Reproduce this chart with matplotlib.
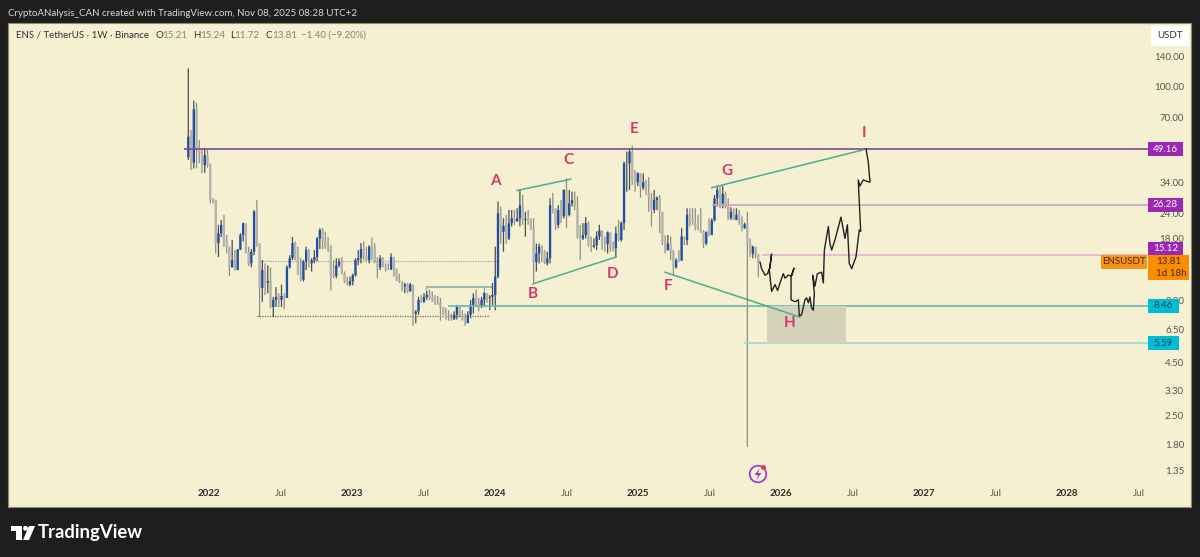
import numpy as np
import matplotlib
matplotlib.use("Agg")
import matplotlib.pyplot as plt
from matplotlib.patches import Rectangle, Circle, Polygon
from matplotlib.transforms import Affine2D

plt.rcParams['font.family'] = ['Lato', 'DejaVu Sans']

W, H = 1200, 557

# weekly candles (ENS / USDT, from Nov 2021)
first_open = 45.0
first_year = 2021.855
closes = [
    56.6, 42.3, 77, 49.4, 47, 41.2, 46.1, 41.2, 28.4, 27.9, 17.2, 19.2, 21.1, 17.8, 16.5, 13.1, 14.2, 12.7, 16, 18.8,
    21.5, 15.6, 13.7, 15.6, 24.5, 17.2, 10.4, 12.7, 11, 11.2, 8.4, 9.1, 9.4, 9.1, 9.5, 9.3, 13.1, 14.5, 17.2, 14.5,
    12.2, 11.4, 14, 15.9, 13.7, 14.2, 14.7, 18.1, 19.9, 17.5, 16.5, 16.4, 12.2, 11.9, 13.4, 14, 12.2, 11.2, 10.8, 11.2,
    12, 14.2, 14.5, 16.1, 15, 14.2, 16.5, 16.4, 14, 13.1, 14.5, 13.4, 12.9, 12.8, 14.7, 12.9, 11.4, 11.2, 10.6, 10.8,
    10, 10.8, 7.8, 8, 9.1, 8.9, 9.4, 9.6, 9.3, 9.1, 8.9, 8.8, 8.4, 7.8, 7.4, 7.35, 7.3, 7.7, 8.4, 7.7,
    7.3, 7, 7.7, 8.6, 9.3, 8.8, 8.4, 9.1, 9.8, 9.3, 9.4, 9.6, 11.8, 24, 19.5, 20.9, 18.1, 21.5, 22.7, 21.9,
    22.7, 26.3, 22.3, 22.5, 21.9, 20.2, 13.9, 15.3, 16.5, 15.6, 13.7, 14.5, 26.3, 25.4, 21.1, 24.9, 23.2, 31.2, 23.6, 26.8,
    27.9, 25.9, 18.5, 18.1, 18.8, 21.5, 16.8, 16.5, 16.8, 18.5, 19.8, 17.1, 17, 19.4, 16.5, 16.2, 19.2, 17.8, 21.5, 42,
    42, 47.9, 34.5, 34, 37.6, 31.9, 34, 30.2, 28.6, 24.9, 27.9, 28.6, 24.4, 17.5, 15.9, 17.1, 15.6, 13.1, 14.2, 14.1,
    18.5, 17.8, 23.6, 22.7, 21.5, 20.3, 20, 19.6, 17.1, 19.4, 18.8, 22.2, 28.4, 31.2, 26.8, 29.9, 25.9, 22.7, 24.4, 22.3,
    23.6, 22.7, 20.3, 21.2, 17.1, 15.3, 16.5, 15.21, 13.81,
]
highs = [
    122, 61, 85, 83, 54.6, 49.4, 50, 48.8, 42, 28.4, 27.9, 21.1, 22.3, 23.6, 18.8, 16.5, 17.8, 15.9, 16.1, 19.2,
    21.6, 21.1, 16.5, 16.1, 24.9, 27.9, 15.9, 14.2, 13.7, 13.4, 13.1, 9.4, 10.5, 9.8, 10.8, 9.8, 13.4, 15, 18.4, 17.5,
    16.5, 14.5, 14.2, 16.5, 16.1, 14.5, 15.9, 18.4, 20.3, 20.3, 19.5, 18.4, 16.8, 14.2, 14.5, 14.5, 14.7, 12.5, 11.8, 11.8,
    12.2, 14.5, 15.9, 17.2, 17.5, 16.5, 16.8, 18.3, 17.2, 14.7, 15, 14.7, 13.7, 13.7, 15.3, 14.7, 12.9, 12.2, 11.2, 11,
    11, 11, 10.2, 8.1, 9.4, 9.6, 9.8, 10, 10.2, 10, 9.6, 9.5, 9.3, 8.4, 8.3, 8.1, 7.8, 8, 8.6, 8.4,
    8.1, 7.8, 8, 9.1, 9.8, 10.2, 9.3, 9.4, 9.9, 9.8, 9.6, 11, 16.5, 27.4, 25.9, 22.7, 23.6, 24.9, 24.9, 24.9,
    25.4, 31.2, 29.5, 24.4, 24.9, 22.7, 22.7, 17.1, 17.1, 16.8, 15.9, 15.6, 28.4, 30.2, 24.9, 26.3, 27.9, 31.4, 35.6, 31.2,
    30.6, 30.6, 29, 21.1, 21.5, 23, 21.9, 18.5, 18.1, 19.6, 21.1, 19.6, 18.5, 19.6, 19.2, 17.5, 20.7, 22.3, 21.9, 42.8,
    48, 49.8, 51.3, 39, 38, 37.6, 37.6, 34.9, 36, 30.2, 31.2, 29, 29.5, 24.4, 18.8, 18.8, 18.5, 15.9, 14.5, 15.9,
    20.3, 18.5, 25.4, 25.4, 25.4, 25.4, 23.6, 25.4, 19.9, 19.6, 22.7, 22.7, 29.5, 32.6, 32.6, 32.6, 30.6, 28.4, 25.7, 25.4,
    25.4, 24.9, 23.2, 21.6, 24.4, 18.1, 16.7, 16.3, 15.24,
]
lows = [
    43.6, 39, 39.7, 39.7, 42, 37.6, 37.8, 40, 26.8, 26.8, 15.3, 14.7, 18.4, 16.5, 15.3, 11.9, 13.1, 12.6, 12.7, 15.9,
    17.5, 15.3, 13.3, 13.1, 15, 16.5, 7.5, 8.9, 9.6, 9.8, 8.3, 7.5, 8.4, 8.4, 8.4, 8.2, 9.3, 12.9, 14.2, 14.2,
    12, 11.2, 11.2, 12.7, 13.1, 12.5, 13.7, 14, 16.1, 16.1, 16.1, 15.6, 10.1, 11.6, 11.6, 13.1, 12.1, 11, 10.7, 10.6,
    10.7, 11.8, 13.4, 13.7, 14.2, 14, 13.7, 14.2, 13.7, 11.6, 12.7, 13.1, 12.5, 12.7, 12.7, 11.8, 11.2, 11, 10, 9.8,
    9.8, 10, 6.8, 7, 7.7, 8.8, 8.8, 9.1, 9.1, 8.9, 8.6, 8.6, 7.2, 7.7, 7.3, 7.2, 7.2, 7.3, 7.3, 7.5,
    7.2, 6.8, 7.2, 7.4, 7.8, 8.4, 8, 8.3, 8.4, 8.8, 8.1, 8.6, 8.1, 11.6, 17.1, 15.6, 17.1, 17.8, 20.7, 21.1,
    21.9, 20.7, 21.1, 18.5, 21.1, 19.9, 10.8, 12.5, 13.7, 13.9, 13.6, 13.4, 13.7, 24, 19.9, 20.3, 21.5, 22.7, 20.3, 23.2,
    25.9, 24.9, 18.1, 14.2, 17.8, 18.1, 16.5, 15.6, 16.2, 15.9, 17.8, 15.9, 15.6, 15.3, 15.6, 15.6, 14.7, 17.5, 17.5, 19.9,
    30.6, 31.2, 33, 30.6, 32.6, 28.6, 31.2, 29.5, 24.4, 20.7, 24, 24.9, 19.2, 16.8, 15.3, 15.8, 14.2, 12, 12.9, 13.9,
    14.2, 16.8, 16.8, 20.7, 21.1, 19.9, 19.8, 19.3, 16.3, 16.8, 18.5, 19.2, 21.9, 25.9, 25.4, 25.4, 25.4, 22.3, 22.3, 22.2,
    22.2, 21.1, 19.6, 20.2, 1.75, 14.7, 14.5, 14.5, 11.72,
]

# hand drawn projection after the last candle
path_years = [
    2025.853, 2025.864, 2025.888, 2025.906, 2025.923, 2025.934, 2025.918, 2025.934, 2025.958, 2025.976,
    2025.993, 2026.016, 2026.028, 2026.051, 2026.074, 2026.091, 2026.070, 2026.070, 2026.098, 2026.121,
    2026.128, 2026.144, 2026.167, 2026.179, 2026.191, 2026.202, 2026.214, 2026.226, 2026.233, 2026.221,
    2026.237, 2026.254, 2026.284, 2026.296, 2026.303, 2026.331, 2026.342, 2026.354, 2026.377, 2026.419,
    2026.436, 2026.447, 2026.464, 2026.477, 2026.494, 2026.524, 2026.547, 2026.557, 2026.540, 2026.552,
    2026.575, 2026.599, 2026.622, 2026.610, 2026.594,
]
path_prices = [
    13.9, 12.9, 12, 12.2, 13.1, 15.2, 12.7, 10, 10.8, 10.1,
    11, 12.2, 11.6, 12, 11.9, 13, 11.8, 9.1, 8.9, 9.1,
    7.6, 7.7, 9.1, 9.3, 8.8, 9.4, 8.3, 8.1, 9.8, 12,
    10.6, 12.2, 12.4, 11, 15.9, 20.7, 17.1, 15.9, 17.8, 23,
    19.9, 18.1, 21.1, 13.7, 12.9, 14.7, 19.9, 19.6, 34.9, 32.6,
    34.9, 34.4, 34, 42.8, 49.5,
]

# levels and trendlines
levels = [49.16, 26.28, 15.12, 8.46, 5.59]
level_starts = [2021.825, 2025.517, 2025.867, 2023.671, 2025.741]
level_colors = ["#7d4a8e", "#c6a3c4", "#e2b4d2", "#5dbab2", "#9ed8cf"]
level_label_colors = ["#9c27b0", "#9c27b0", "#9c27b0", "#00bcd4", "#00bcd4"]
level_text_colors = ["white", "white", "white", "#134a55", "#134a55"]

trend_x = [(2024.154, 2024.529), (2024.266, 2024.846), (2025.189, 2026.133), (2025.515, 2026.571)]
trend_y = [(31, 35.2), (10.9, 14.7), (12.4, 7.5), (32, 48.8)]

wave_labels = ["A", "B", "C", "D", "E", "F", "G", "H", "I"]
wave_x = [2024.0, 2024.266, 2024.51, 2024.825, 2024.972, 2025.21, 2025.622, 2026.063, 2026.58]
wave_y = [34.4, 9.7, 43.6, 12.2, 62, 10.6, 38.5, 7, 59]

price_ticks = [140, 100, 70, 34, 24, 18, 9, 6.5, 4.5, 3.3, 2.5, 1.8, 1.35]
year_ticks = [2022, 2022.5, 2023, 2023.5, 2024, 2024.5, 2025, 2025.5, 2026, 2026.5, 2027, 2027.5, 2028, 2028.5]
year_labels = ["2022", "Jul", "2023", "Jul", "2024", "Jul", "2025", "Jul", "2026", "Jul", "2027", "Jul", "2028", "Jul"]

BG = "#1e1e1e"
PANEL = "#f5f0d2"
UP = "#1f4fa3"
DOWN = "#b4b3aa"
UP_WICK = "#4a4c50"
DOWN_WICK = "#8f8e84"
TEAL = "#4fab93"
PINK = "#d8336e"
TICK = "#55554f"
FS = 7.0


def draw_candles(ax):
    closes_arr = np.array(closes)
    opens = np.r_[first_open, closes_arr[:-1]]
    step = 7 / 365.25
    x = first_year + np.arange(len(closes_arr)) * step
    up = closes_arr >= opens
    wicks = ax.vlines(x, lows, highs, colors=[UP_WICK if u else DOWN_WICK for u in up], lw=0.9, zorder=2)
    wicks.set_snap(False)
    bars = ax.bar(x, np.abs(closes_arr - opens), bottom=np.minimum(closes_arr, opens), width=step * 0.85,
                  color=[UP if u else DOWN for u in up], lw=0, zorder=3)
    for bar in bars:
        bar.set_snap(False)


def draw_levels(ax):
    ax.add_patch(Rectangle((2025.902, 5.59), 0.553, 8.46 - 5.59, color="#d5d2ba", lw=0, zorder=4))
    for level, start, color in zip(levels, level_starts, level_colors):
        ax.hlines(level, start, 2028.566, color=color, lw=1.2, zorder=3.5)
    ax.hlines(14.1, 2022.357, 2024.014, color="#a9a68e", lw=0.9, ls=(0, (1, 1)), zorder=1)
    ax.hlines(7.6, 2022.336, 2023.958, color="#6e6d60", lw=0.9, ls=(0, (1, 1)), zorder=1)
    # small range box before the 2024 breakout
    ax.hlines(10.5, 2023.517, 2023.979, color="#7fae9e", lw=1.1, zorder=1.5)
    ax.vlines([2023.517, 2023.923], [9.6, 8.6], 10.5, color="#7fae9e", lw=0.9, zorder=1.5)
    for xs, ys in zip(trend_x, trend_y):
        ax.plot(xs, ys, color=TEAL, lw=1.1, zorder=5)
    ax.plot(path_years, path_prices, color="#222222", lw=1.0, zorder=6, solid_joinstyle="round")
    for label, x, y in zip(wave_labels, wave_x, wave_y):
        ax.text(x, y, label, color=PINK, fontsize=11, fontweight="bold", ha="center", va="center", zorder=7)


def format_axes(ax):
    ax.set_facecolor(PANEL)
    ax.set_yscale("log")
    ax.set_xlim(2020.594, 2028.867)
    ax.set_ylim(0.892, 202.7)
    ax.yaxis.tick_right()
    ax.minorticks_off()
    ax.set_yticks(price_ticks)
    ax.set_yticklabels([f"{p:.2f}" for p in price_ticks], color=TICK, fontsize=FS, ha="right")
    ax.yaxis.set_minor_locator(plt.NullLocator())
    ax.tick_params(axis="y", length=0, pad=-5)
    ax.set_xticks(year_ticks)
    ax.set_xticklabels(year_labels, color=TICK, fontsize=FS)
    ax.tick_params(axis="x", length=0, pad=-13)
    for tick, label in zip(ax.get_xticklabels(), year_labels):
        if label != "Jul":
            tick.set_fontweight("bold")
            tick.set_color("#2a2a2a")
    for side in ax.spines:
        ax.spines[side].set_color("#8f8d68")
        ax.spines[side].set_linewidth(0.8)


def px_box(fig, px, x0, y0, x1, y1, color):
    fig.add_artist(Rectangle((x0, y0), x1 - x0, y1 - y0, transform=px, color=color, lw=0))


def px_text(fig, x, y, s, **kw):
    kw.setdefault("va", "center")
    fig.text(x / W, 1 - y / H, s, **kw)


def draw_overlay(fig):
    # transform with pixel coordinates, y going down
    px = Affine2D().scale(1 / W, -1 / H).translate(0, 1) + fig.transFigure

    px_text(fig, 8, 13, "CryptoANalysis_CAN created with TradingView.com, Nov 08, 2025 08:28 UTC+2",
            color="#d8d8d8", fontsize=FS)
    px_text(fig, 15.5, 35, "ENS / TetherUS · 1W · Binance", color="#33332e", fontsize=FS)
    for x, s in zip([156, 193, 230, 265.5], ["O", "H", "L", "C"]):
        px_text(fig, x, 35, s, color="#33332e", fontsize=FS)
    for x, s in zip([162.5, 200, 234.5, 272, 301.5], ["15.21", "15.24", "11.72", "13.81", "−1.40 (−9.20%)"]):
        px_text(fig, x, 35, s, color="#85857a", fontsize=FS)

    px_box(fig, px, 1151, 26, 1189, 46, "white")
    px_text(fig, 1170, 36, "USDT", color="#333333", fontsize=FS, ha="center")

    boxes = [(1148, 142, 1183, 156), (1148, 198, 1183, 212), (1148, 242, 1183, 255), (1148, 299, 1179, 313), (1148, 336, 1179, 350)]
    for box, level, color, text_color in zip(boxes, levels, level_label_colors, level_text_colors):
        px_box(fig, px, *box, color)
        px_text(fig, (box[0] + box[2]) / 2, (box[1] + box[3]) / 2, f"{level:.2f}", color=text_color,
                fontsize=FS, ha="center")

    px_box(fig, px, 1101, 255, 1147, 269, "#f7931a")
    px_text(fig, 1124, 262, "ENSUSDT", color="#4a2a00", fontsize=FS, ha="center")
    px_box(fig, px, 1148, 255, 1189, 280, "#fb8c00")
    px_text(fig, 1156, 262, "13.81", color="#4a2a00", fontsize=FS)
    px_text(fig, 1156, 273, "1d 18h", color="#4a2a00", fontsize=FS)

    # lightning badge under the chart
    fig.add_artist(Circle((758, 474), 8.3, transform=px, fill=False, ec="#9c35c8", lw=1.2))
    fig.add_artist(Polygon([(759.5, 468.5), (754.5, 475), (758, 475), (756.5, 479.5), (761.5, 473), (758, 473)],
                           transform=px, color="#9c35c8", lw=0))
    fig.add_artist(Circle((763.5, 467.5), 2.4, transform=px, color="#e0394a", lw=0))

    # TradingView logo
    px_box(fig, px, 11, 526, 22, 531, "white")
    px_box(fig, px, 16, 531, 22, 540, "white")
    fig.add_artist(Circle((25.5, 528.3), 2.4, transform=px, color="white", lw=0))
    fig.add_artist(Polygon([(29, 526), (35, 526), (29, 540), (23, 540)], transform=px, color="white", lw=0))
    px_text(fig, 38, 532.5, "TradingView", color="white", fontsize=13.3, fontweight="bold")


fig = plt.figure(figsize=(W / 100, H / 100), dpi=100, facecolor=BG)
ax = fig.add_axes([8 / W, 1 - 507 / H, (1191 - 8) / W, (507 - 23) / H])
format_axes(ax)
draw_candles(ax)
draw_levels(ax)
draw_overlay(fig)

fig.savefig("out.png", dpi=100, facecolor=BG)
